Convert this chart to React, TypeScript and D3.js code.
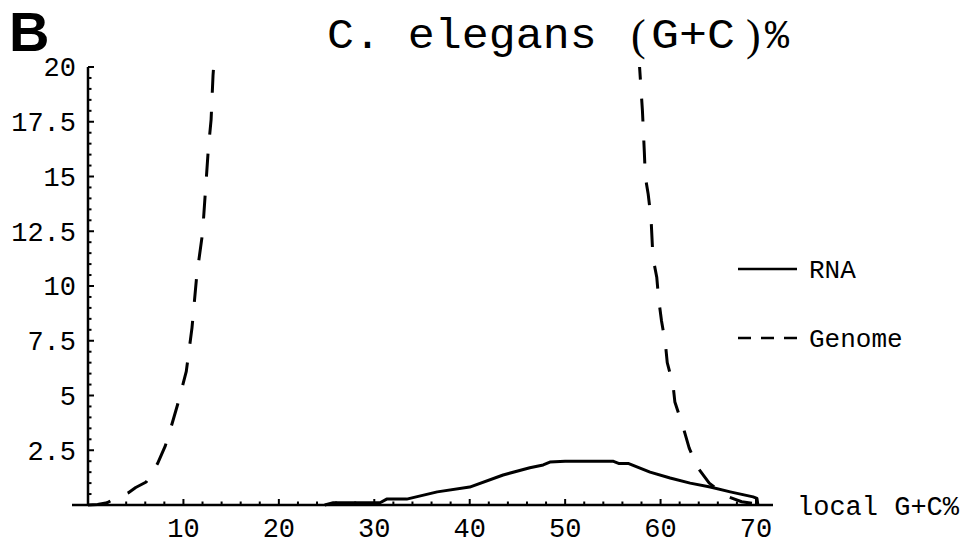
import React from "react";
import * as d3 from "d3";

const rnaX = [24.8, 25.7, 30.6, 31.3, 33.4, 36.6, 40.0, 43.5, 46.3, 47.7, 48.4, 50.0, 55.0, 55.6, 56.6, 58.9, 61.0, 63.1, 65.2, 67.3, 69.7, 70.1, 70.2];
const rnaY = [0, 0.1, 0.1, 0.27, 0.27, 0.6, 0.82, 1.37, 1.7, 1.83, 1.96, 2.0, 2.0, 1.9, 1.9, 1.5, 1.23, 1.0, 0.82, 0.6, 0.37, 0.3, 0];

const genomeX = [0, 1, 2, 2.6, 4.2, 5.0, 6.1, 7.3, 8.1, 8.8, 9.4, 10.3, 10.9, 11.4, 12.0, 12.3, 12.6, 12.9, 13.1, 13.4,
  57.7, 57.8, 58.1, 58.3, 58.4, 58.7, 59.0, 59.2, 59.6, 59.8, 60.1, 60.5, 60.7, 61.3, 61.5, 62.4, 63.0, 63.9, 65.1, 66.0, 66.9, 68.5, 70.0];
const genomeY = [0, 0.02, 0.1, 0.25, 0.55, 0.8, 1.05, 1.9, 2.7, 3.7, 4.6, 6.1, 8.1, 10.5, 12.4, 14.3, 16.2, 17.6, 19.6, 21.5,
  21.5, 20.0, 18.0, 16.1, 15.0, 14.2, 13.1, 11.3, 10.4, 9.4, 8.4, 7.4, 6.5, 5.5, 4.7, 3.5, 2.6, 1.7, 1.0, 0.7, 0.4, 0.15, 0.05];

const xMajorTicks = [10, 20, 30, 40, 50, 60, 70];
const yMajorTicks = [2.5, 5, 7.5, 10, 12.5, 15, 17.5, 20];
const yTickLabels = ["2.5", "5", "7.5", "10", "12.5", "15", "17.5", "20"];
const legendLabels = ["RNA", "Genome"];

const MONO = "'Liberation Mono', 'Courier New', monospace";

function sx(x0: number, s: number) {
  return `translate(${x0},0) scale(${s},1) translate(${-x0},0)`;
}

export default function App() {
  const W = 968, H = 545;
  const x = d3.scaleLinear().domain([0, 70]).range([88, 756]);
  const y = d3.scaleLinear().domain([0, 20]).range([505, 67]);

  const rna = rnaX.map((v, i) => [v, rnaY[i]] as [number, number]);
  const genome = genomeX.map((v, i) => [v, genomeY[i]] as [number, number]);
  const line = d3.line<[number, number]>().x(d => x(d[0])).y(d => y(d[1]));

  const xMinor = d3.range(2, 71, 2).filter(v => v % 10 !== 0);
  const yMinor = d3.range(0.5, 20.01, 0.5).filter(v => Math.abs(v / 2.5 - Math.round(v / 2.5)) > 1e-6);

  return (
    <svg width={W} height={H} viewBox={`0 0 ${W} ${H}`} style={{ position: "absolute", left: 0, top: 0, background: "#fff" }}>
      <defs>
        <clipPath id="plotclip">
          <rect x={x(0) - 5} y={y(20)} width={x(72) - x(0) + 5} height={y(0) - y(20) + 4} />
        </clipPath>
      </defs>
      <text x={9} y={51} fontFamily="'Liberation Sans', Arial, sans-serif" fontWeight="bold" fontSize={56} fill="#000">B</text>
      <text x={327} y={48} fontFamily={MONO} fontSize={42} fill="#000" transform={sx(327, 1.07)}>C. elegans</text>
      <text x={631} y={50} fontFamily="'Liberation Serif', serif" fontSize={44} fill="#000">(</text>
      <text x={651} y={48} fontFamily={MONO} fontSize={42} fill="#000" transform={sx(651, 1.11)}>G+C</text>
      <text x={746} y={50} fontFamily="'Liberation Serif', serif" fontSize={44} fill="#000">)</text>
      <text x={765} y={48} fontFamily={MONO} fontSize={40} fill="#000">%</text>

      {/* axes */}
      <line x1={72} x2={773} y1={y(0)} y2={y(0)} stroke="#000" strokeWidth={2.5} />
      <line x1={x(0)} x2={x(0)} y1={y(20)} y2={y(0)} stroke="#000" strokeWidth={2.5} />
      {xMinor.map(v => (
        <line key={"xm" + v} x1={x(v)} x2={x(v)} y1={y(0)} y2={y(0) - 3.5} stroke="#000" strokeWidth={2} />
      ))}
      {xMajorTicks.map(v => (
        <g key={"xM" + v}>
          <line x1={x(v)} x2={x(v)} y1={y(0)} y2={y(0) - 6} stroke="#000" strokeWidth={2} />
          <text x={x(v)} y={537} textAnchor="middle" fontFamily={MONO} fontSize={27} fill="#000">{v}</text>
        </g>
      ))}
      {yMinor.map(v => (
        <line key={"ym" + v} x1={x(0)} x2={x(0) + 3.5} y1={y(v)} y2={y(v)} stroke="#000" strokeWidth={2} />
      ))}
      {yMajorTicks.map((v, i) => (
        <g key={"yM" + v}>
          <line x1={x(0)} x2={x(0) + 6} y1={y(v)} y2={y(v)} stroke="#000" strokeWidth={2} />
          <text x={76} y={y(v)} dy="0.35em" textAnchor="end" fontFamily={MONO} fontSize={27} fill="#000">{yTickLabels[i]}</text>
        </g>
      ))}

      <g clipPath="url(#plotclip)">
        <path d={line(genome) || ""} fill="none" stroke="#000" strokeWidth={3} strokeDasharray="23 19" strokeLinejoin="round" />
        <path d={line(rna) || ""} fill="none" stroke="#000" strokeWidth={3} strokeLinejoin="round" />
      </g>

      <text x={797} y={515} fontFamily={MONO} fontSize={27} fill="#000">local G+C%</text>

      {/* legend */}
      <line x1={738} x2={797} y1={269} y2={269} stroke="#000" strokeWidth={2.5} />
      <text x={809} y={278} fontFamily={MONO} fontSize={26} fill="#000">{legendLabels[0]}</text>
      <line x1={738} x2={797} y1={338} y2={338} stroke="#000" strokeWidth={2.5} strokeDasharray="13 10" />
      <text x={809} y={347} fontFamily={MONO} fontSize={26} fill="#000">{legendLabels[1]}</text>
    </svg>
  );
}
